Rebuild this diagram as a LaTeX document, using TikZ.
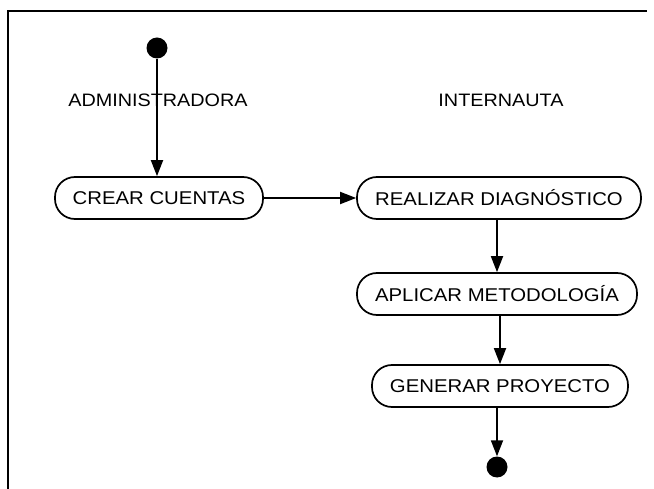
\documentclass[tikz,border=0pt]{standalone}
\usepackage{fontspec}
\setmainfont[FakeStretch=1.1]{Liberation Sans}
\usetikzlibrary{arrows.meta}
\begin{document}
\begin{tikzpicture}[x=1pt,y=-1pt,
  act/.style={draw,line width=1.7pt,rounded corners=20pt,minimum height=42pt,inner sep=0pt,font=\fontsize{18.5}{22}\selectfont},
  lbl/.style={font=\fontsize{18}{22}\selectfont,inner sep=0pt},
  dot/.style={circle,fill=black,minimum size=21pt,inner sep=0pt},
  flow/.style={line width=1.8pt,-{Triangle[length=16pt,width=12pt]}}]
\useasboundingbox (0,0) rectangle (654,489);
\draw[line width=1.3pt] (8,489) -- (8,11) -- (647,11);
\node[dot] (start) at (157,48) {};
\node[lbl] (admin) at (158,100) {ADMINISTRADORA};
\node[lbl] (inter) at (501,100) {INTERNAUTA};
\node[act,minimum width=208pt] (crear) at (159,198) {CREAR CUENTAS};
\node[act,minimum width=284pt] (real) at (499,198) {REALIZAR DIAGNÓSTICO};
\node[act,minimum width=280pt] (apl) at (497,294) {APLICAR METODOLOGÍA};
\node[act,minimum width=256pt] (gen) at (500,386) {GENERAR PROYECTO};
\node[dot] (end) at (497,467) {};
\draw[flow] (start) -- (start |- crear.north);
\draw[flow] (crear) -- (real);
\draw[flow] (real.south -| apl) -- (apl);
\draw[flow] (apl.south -| gen) -- (gen);
\draw[flow] (gen.south -| end) -- (end);
\end{tikzpicture}
\end{document}
